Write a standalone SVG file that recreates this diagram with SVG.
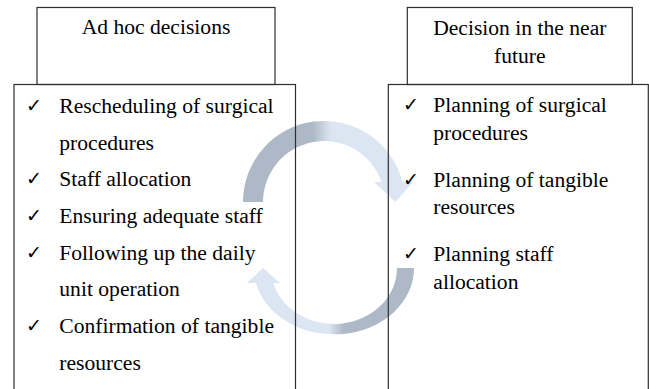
<svg xmlns="http://www.w3.org/2000/svg" width="649" height="389" viewBox="0 0 649 389">
  <style>
    .box { fill: none; stroke: #2e2e2e; stroke-width: 1.2; }
    .t { font-size: 21.6px; fill: #000000; }
    .c { text-anchor: middle; }
    .chk { font-size: 19px; fill: #000000; }
  </style>
  <defs>
    <linearGradient id="gTop" gradientUnits="userSpaceOnUse" x1="243" y1="0" x2="413" y2="0">
      <stop offset="0" stop-color="#adb9c6"/>
      <stop offset="0.41" stop-color="#adb9c6"/>
      <stop offset="0.52" stop-color="#dce6f2"/>
      <stop offset="1" stop-color="#dce6f2"/>
    </linearGradient>
    <linearGradient id="gBot" gradientUnits="userSpaceOnUse" x1="247" y1="0" x2="414" y2="0">
      <stop offset="0" stop-color="#dce6f2"/>
      <stop offset="0.49" stop-color="#dce6f2"/>
      <stop offset="0.58" stop-color="#adb9c6"/>
      <stop offset="1" stop-color="#adb9c6"/>
    </linearGradient>
  </defs>

  <g id="connectors">
    <path id="arrow-top" fill="url(#gTop)" d="M243,202 A81,81 0 0 1 402.5,182 L413,182 L395.5,202 L374,182 L381.6,182 A61,61 0 0 0 263,202 Z"/>
    <path id="arrow-bottom" fill="url(#gBot)" d="M414,268 A80,66 0 0 1 256,283 L247,283 L263,268 L280,283 L273.3,283 A63,56 0 0 0 397,268 Z"/>
  </g>

  <g id="left-header" font-family="Liberation Serif, serif">
    <rect class="box" x="37" y="7.5" width="238" height="77"/>
    <text class="t c" x="156" y="34.3">Ad hoc decisions</text>
  </g>

  <g id="left-list" font-family="Liberation Serif, serif">
    <rect class="box" x="14" y="84.5" width="281.5" height="320"/>
    <g font-family="DejaVu Sans, sans-serif">
      <text class="chk" x="26" y="112">✓</text>
      <text class="chk" x="26" y="185">✓</text>
      <text class="chk" x="26" y="222">✓</text>
      <text class="chk" x="26" y="258.5">✓</text>
      <text class="chk" x="26" y="332">✓</text>
    </g>
    <text class="t" x="59.3" y="113">Rescheduling of surgical</text>
    <text class="t" x="59.3" y="149.5">procedures</text>
    <text class="t" x="59.3" y="186">Staff allocation</text>
    <text class="t" x="59.3" y="223">Ensuring adequate staff</text>
    <text class="t" x="59.3" y="259.5">Following up the daily</text>
    <text class="t" x="59.3" y="296">unit operation</text>
    <text class="t" x="59.3" y="333">Confirmation of tangible</text>
    <text class="t" x="59.3" y="369.5">resources</text>
  </g>

  <g id="right-header" font-family="Liberation Serif, serif">
    <rect class="box" x="407.3" y="7.5" width="225" height="77"/>
    <text class="t c" x="519.8" y="35">Decision in the near</text>
    <text class="t c" x="519.8" y="63.3">future</text>
  </g>

  <g id="right-list" font-family="Liberation Serif, serif">
    <rect class="box" x="388.3" y="84.5" width="260" height="320"/>
    <g font-family="DejaVu Sans, sans-serif">
      <text class="chk" x="403" y="111">✓</text>
      <text class="chk" x="403" y="185.5">✓</text>
      <text class="chk" x="403" y="260">✓</text>
    </g>
    <text class="t" x="433.3" y="112">Planning of surgical</text>
    <text class="t" x="433.3" y="139.5">procedures</text>
    <text class="t" x="433.3" y="186.5">Planning of tangible</text>
    <text class="t" x="433.3" y="214">resources</text>
    <text class="t" x="433.3" y="261">Planning staff</text>
    <text class="t" x="433.3" y="288.5">allocation</text>
  </g>
</svg>
